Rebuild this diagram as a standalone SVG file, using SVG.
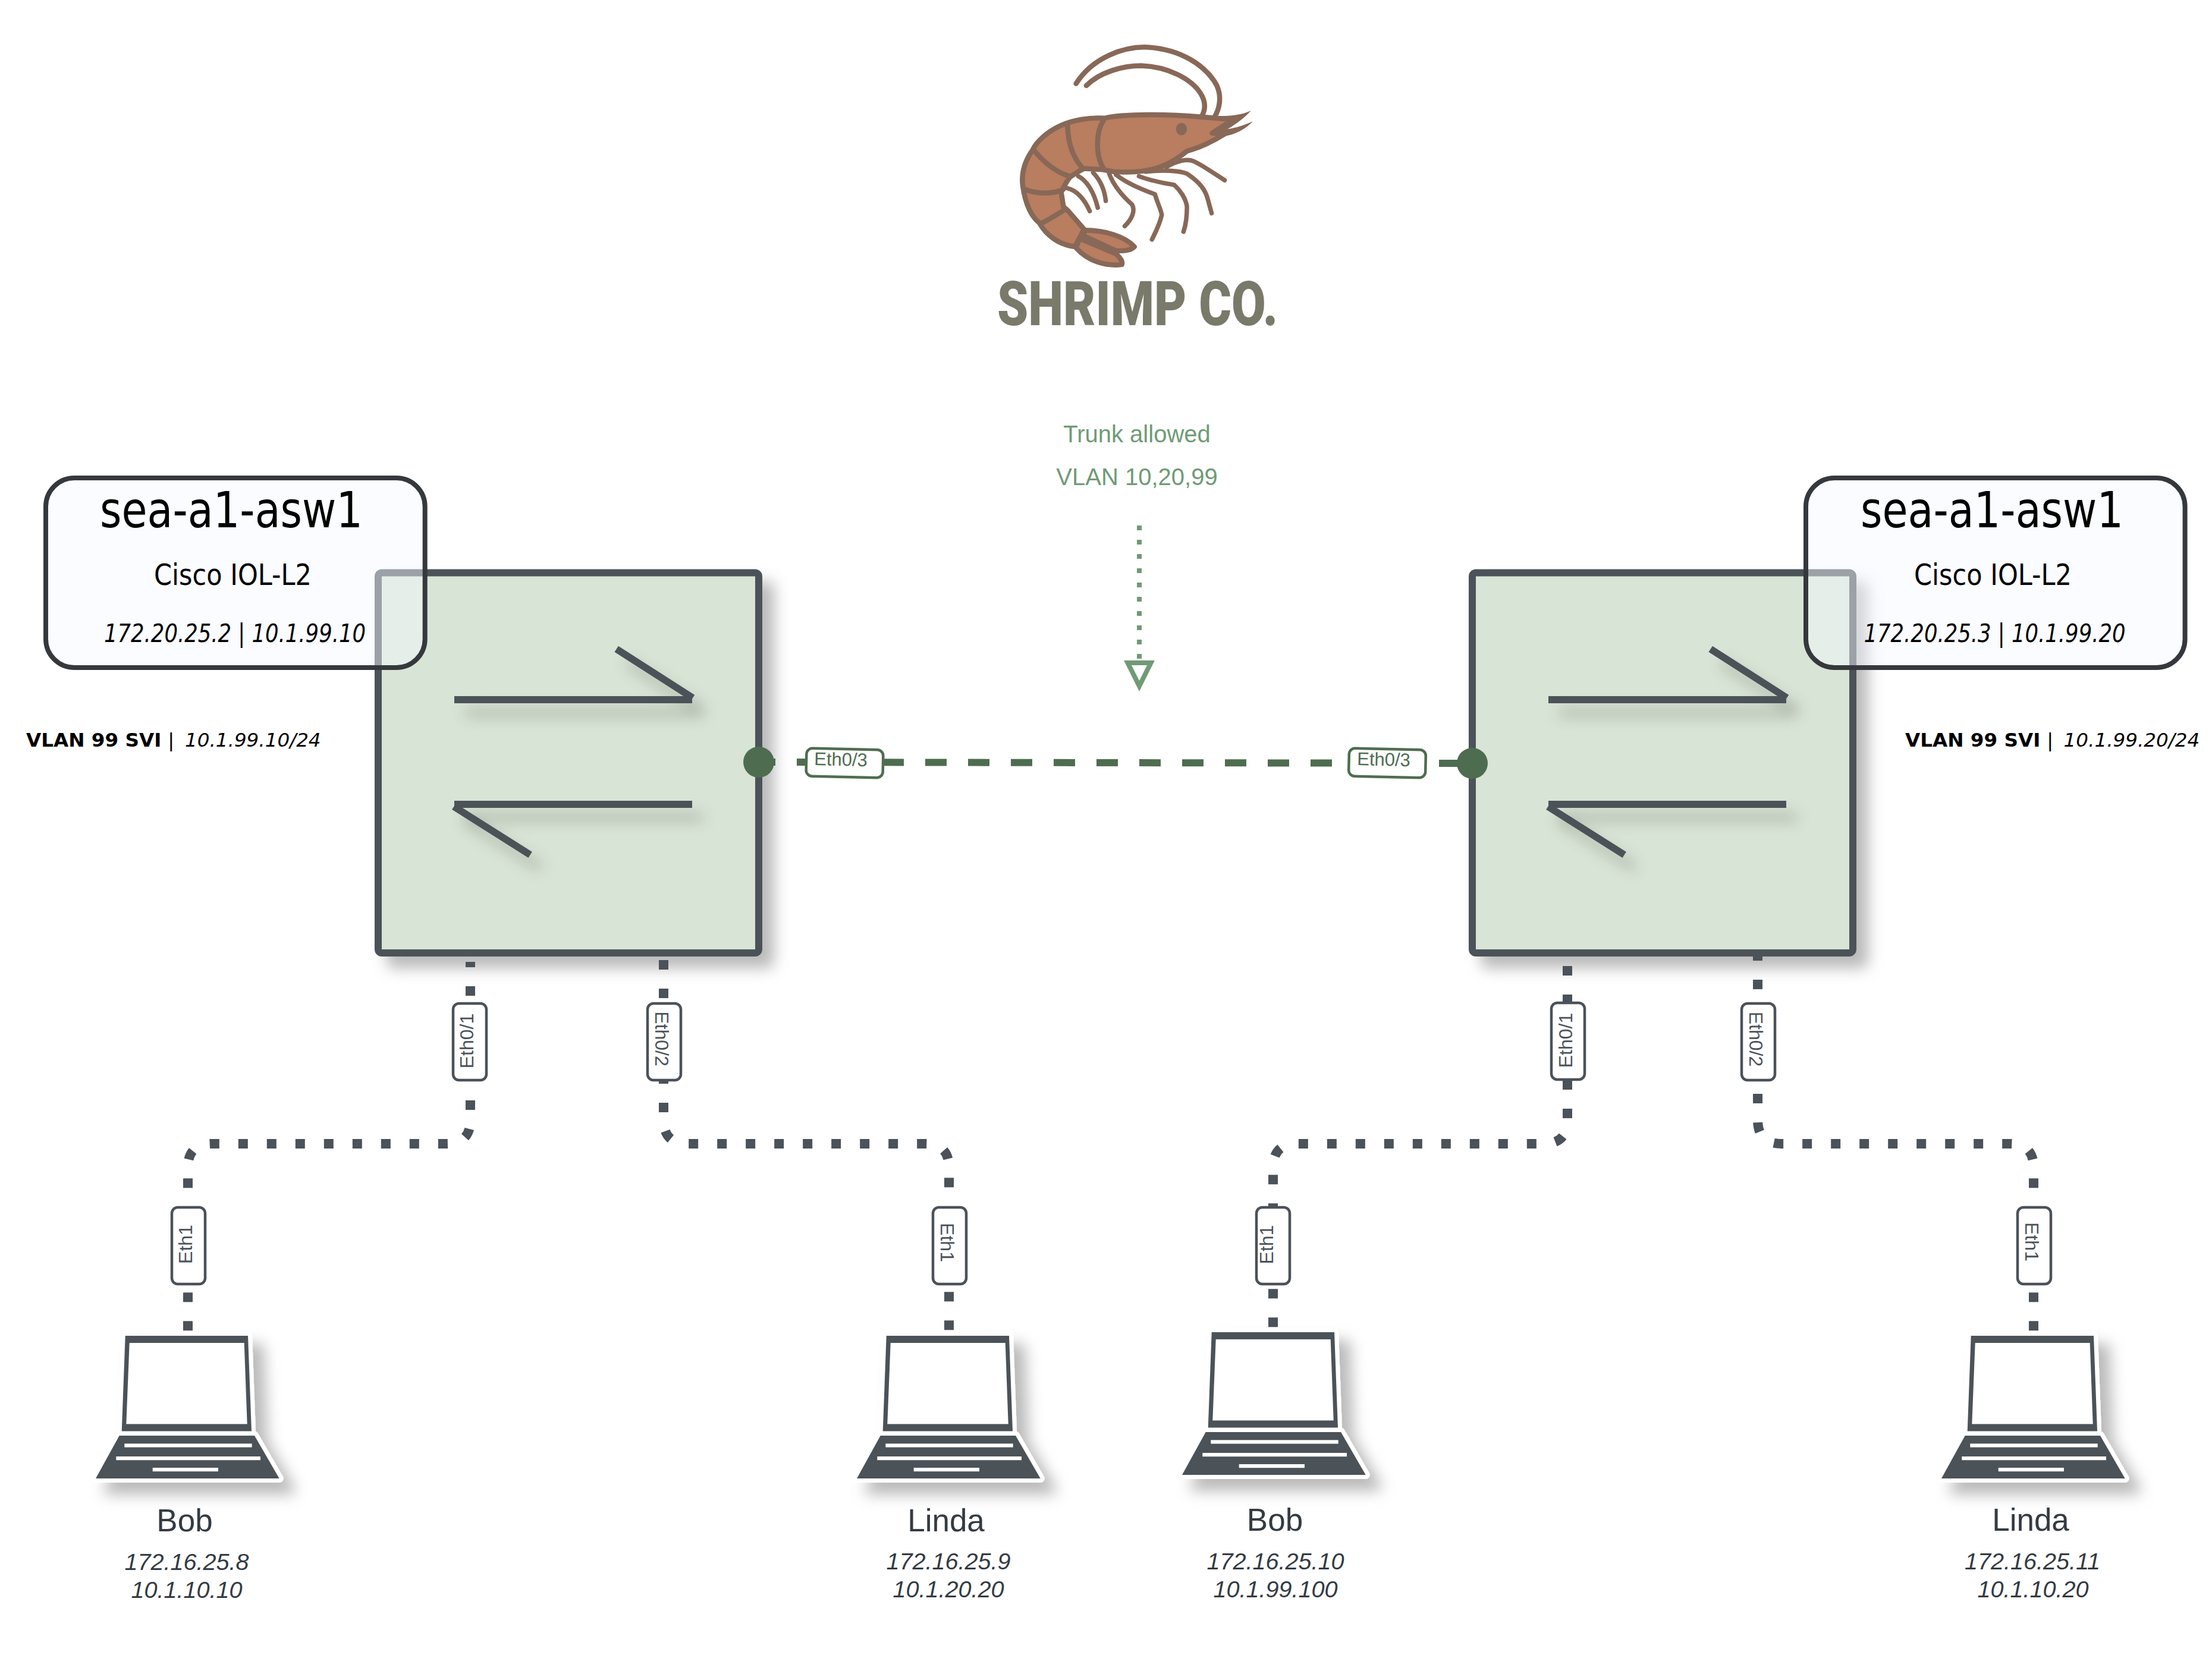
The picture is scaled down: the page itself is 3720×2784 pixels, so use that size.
<svg xmlns="http://www.w3.org/2000/svg" xmlns:xlink="http://www.w3.org/1999/xlink" width="3720" height="2784" viewBox="0 0 3720 2784">
<style>
text{font-family:"Liberation Sans",Arial,sans-serif}
.sw{fill:#d8e4d5;stroke:#4b5259;stroke-width:12;stroke-linejoin:round}
.arrow{fill:none;stroke:#4b5259;stroke-width:12}
.dot{fill:none;stroke:#4b5259;stroke-width:16;stroke-dasharray:16 32}
.dash{fill:none;stroke:#4e6d50;stroke-width:12;stroke-dasharray:36 36}
.port{fill:#fff;stroke:#4b5259;stroke-width:4.5}
.portg{fill:#fff;stroke:#4e6d50;stroke-width:4.5}
.pt{font-size:32px;fill:#4b5259;text-anchor:middle}
.ptg{font-size:31px;fill:#4e6d50}
.name{font-size:53px;fill:#343b43;text-anchor:middle}
.ip{font-size:39.6px;font-style:italic;fill:#343b43;text-anchor:middle}
.card{fill:#f6f8ff;fill-opacity:.47;stroke:#35383c;stroke-width:8}
.dv{font-family:"DejaVu Sans",Verdana,sans-serif;fill:#000}
.t1{font-size:84px}.t2{font-size:49px}.t3{font-size:43px;font-style:italic}
.svi{font-family:"DejaVu Sans",Verdana,sans-serif;font-size:32.6px;fill:#000}
.note{font-size:40px;fill:#6f9b75;text-anchor:middle}
.sh{fill:#b97d60;stroke:#886857;stroke-width:8.5;stroke-linejoin:round;vector-effect:non-scaling-stroke}
.ln{fill:none;stroke:#886857;stroke-width:8.5;stroke-linecap:round;stroke-linejoin:round;vector-effect:non-scaling-stroke}
.ls{fill:none;stroke:#886857;stroke-width:7.5;stroke-linecap:round;stroke-linejoin:round;vector-effect:non-scaling-stroke}
</style>
<defs>
<filter id="shadow" x="-20%" y="-20%" width="150%" height="150%"><feDropShadow dx="20" dy="20" stdDeviation="12" flood-color="#000" flood-opacity=".27"/></filter>
<filter id="lineShadow" filterUnits="userSpaceOnUse" x="600" y="1000" width="2700" height="600"><feDropShadow dx="18" dy="22" stdDeviation="12" flood-color="#000" flood-opacity=".22"/></filter>
<g id="laptop">
<g fill="#fff" stroke="#fff" stroke-width="14" stroke-linejoin="round">
<polygon points="211.7,2247 418,2247 424,2407.6 205.7,2407.6"/>
<polygon points="201.7,2415 429,2415 470.7,2487 162,2487"/>
</g>
<path fill="#4b5259" fill-rule="evenodd" d="M211.7 2247H418L424 2407.6H205.7ZM218.7 2259L213.3 2395.5H416.7L411.7 2259Z"/>
<polygon fill="#4b5259" points="201.7,2415 429,2415 470.7,2487 162,2487"/>
<g fill="#fff"><rect x="210.3" y="2428.4" width="214.4" height="6.2"/><rect x="196.3" y="2450" width="242.7" height="6.2"/><rect x="257.7" y="2469" width="110.3" height="6.2"/></g>
</g>
<g id="swArrows">
<path class="arrow" d="M764 1177H1164M1036.7 1091.7L1165 1174"/>
<path class="arrow" d="M1164 1353H764M763.3 1356.7L891.7 1438"/>
</g>
</defs>
<rect width="3720" height="2784" fill="#fff"/>
<g id="logo">
<g transform="translate(1600 50) scale(.3846 .346)">
<path class="ln" d="M545 262C620 130 760 80 860 85C1000 95 1110 170 1160 270C1185 330 1170 390 1150 425"/>
<path class="ln" d="M590 272C650 205 750 175 830 175C950 180 1050 240 1090 310C1115 355 1110 390 1095 420"/>
<path class="ls" d="M940 668C980 640 1030 625 1060 640C1100 660 1150 700 1195 732"/>
<path class="ls" d="M850 690C920 680 1000 685 1030 700C1090 745 1110 780 1120 820L1138 892"/>
<path class="ls" d="M820 712C870 735 930 745 975 755C1000 780 1025 820 1030 860C1030 910 1025 950 1015 982"/>
<path class="ls" d="M720 705C770 750 840 780 890 800C900 840 915 870 920 900C910 950 890 990 877 1020"/>
<path class="ls" d="M690 700C710 760 750 810 790 850C805 880 790 920 758 955"/>
<path class="ls" d="M620 695C650 730 670 780 675 832"/>
<path class="ls" d="M555 712C600 740 625 800 640 865"/>
<path class="ls" d="M505 770C550 780 585 830 605 882"/>
<path class="sh" d="M585 975C670 975 760 1005 800 1055C785 1075 750 1075 720 1075L575 1000Z"/>
<path class="sh" d="M560 1015L720 1090C740 1110 750 1130 745 1142C680 1150 600 1130 545 1060Z"/>
<path class="sh" d="M670 430C760 408 950 410 1100 425L1160 430L1230 438L1140 503L1195 507C1140 545 1080 575 1030 590C990 625 960 650 900 672C850 690 780 695 710 690L660 680L580 675L555 690L520 715C500 740 490 770 480 790L490 860L510 880L580 970L540 1055C470 1045 415 1000 385 940C340 900 320 820 312 760C305 700 320 640 355 585C370 545 420 495 480 465C530 440 600 425 670 430Z"/>
<path fill="#886857" d="M1150 420C1220 420 1270 415 1310 393C1285 425 1250 455 1208 483C1245 478 1285 462 1318 446C1285 485 1240 510 1195 518L1195 508L1140 503L1230 440L1150 438Z"/>
<path class="ln" d="M665 440C630 500 630 610 665 675M508 470C510 550 530 620 575 675M360 585C400 640 450 690 515 712M320 775C370 800 450 800 490 775M395 940C425 925 460 900 495 875"/>
<ellipse cx="1006" cy="483" rx="24" ry="30" fill="#886857"/>
</g>
<text x="1677" y="546.5" font-size="104" font-weight="900" fill="#7a7a6b" style="font-family:Roboto,'Liberation Sans',sans-serif" textLength="472" lengthAdjust="spacingAndGlyphs">SHRIMP CO.</text>
</g>
<g id="trunk-note">
<text class="note" x="1912" y="743.5">Trunk allowed</text>
<text class="note" x="1912" y="815.7">VLAN 10,20,99</text>
<line x1="1916" y1="884" x2="1916" y2="1108" stroke="#6f9b75" stroke-width="8" stroke-dasharray="8 16"/>
<polygon points="1896.5,1115 1935.5,1115 1916,1154" fill="#fff" stroke="#6f9b75" stroke-width="8" stroke-miterlimit="10"/>
</g>
<g id="switch-a">
<rect class="sw" x="636" y="963.5" width="640" height="639.5" rx="6" filter="url(#shadow)"/>
<use href="#swArrows" filter="url(#lineShadow)"/>
</g>
<g id="switch-b">
<rect class="sw" x="2476" y="963.5" width="640" height="639.5" rx="6" filter="url(#shadow)"/>
<use href="#swArrows" x="1840" filter="url(#lineShadow)"/>
</g>
<g id="connectors">
<line class="dash" x1="1268" y1="1282" x2="2476" y2="1284"/>
<path class="dot" stroke-dashoffset="7" d="M791 1618V1884Q791 1924 751 1924H356Q316 1924 316 1964V2241"/>
<path class="dot" d="M1116 1615V1884Q1116 1924 1156 1924H1556Q1596 1924 1596 1964V2240"/>
<path class="dot" stroke-dashoffset="32" d="M2636 1609V1884Q2636 1924 2596 1924H2181Q2141 1924 2141 1964V2234.5"/>
<path class="dot" stroke-dashoffset="9" d="M2956 1609V1884Q2956 1924 2996 1924H3380Q3420 1924 3420 1964V2240"/>
<circle cx="1276" cy="1282" r="26" fill="#4e6d50"/>
<circle cx="2476" cy="1284" r="26" fill="#4e6d50"/>
<g transform="rotate(1.3 1420.5 1283.5)"><rect class="portg" x="1356" y="1260" width="129" height="47" rx="10"/></g>
<text class="ptg" transform="translate(1369 1287) rotate(1.3)">Eth0/3</text>
<g transform="rotate(1.3 2333 1283.5)"><rect class="portg" x="2268.5" y="1260" width="129" height="47" rx="10"/></g>
<text class="ptg" transform="translate(2282 1287) rotate(1.3)">Eth0/3</text>
<rect class="port" x="762" y="1688" width="56" height="129" rx="10"/>
<text class="pt" transform="translate(796 1751) rotate(-90)">Eth0/1</text>
<rect class="port" x="1089" y="1688" width="56" height="129" rx="10"/>
<text class="pt" transform="translate(1102 1747.5) rotate(90)">Eth0/2</text>
<rect class="port" x="2609" y="1687" width="56" height="129" rx="10"/>
<text class="pt" transform="translate(2644 1750) rotate(-90)">Eth0/1</text>
<rect class="port" x="2929" y="1688" width="56" height="129" rx="10"/>
<text class="pt" transform="translate(2942 1748) rotate(90)">Eth0/2</text>
<rect class="port" x="289" y="2031" width="56" height="129" rx="10"/>
<text class="pt" transform="translate(323 2093) rotate(-90)">Eth1</text>
<rect class="port" x="1569" y="2031" width="56" height="129" rx="10"/>
<text class="pt" transform="translate(1582 2090) rotate(90)">Eth1</text>
<rect class="port" x="2113" y="2031" width="56" height="129" rx="10"/>
<text class="pt" transform="translate(2141 2093.5) rotate(-90)">Eth1</text>
<rect class="port" x="3393" y="2031" width="56" height="129" rx="10"/>
<text class="pt" transform="translate(3406 2089) rotate(90)">Eth1</text>
</g>
<g id="pc-bob-a">
<use href="#laptop" x="-1" filter="url(#shadow)"/>
<text class="name" x="310.5" y="2576">Bob</text>
<text class="ip" x="314" y="2641">172.16.25.8</text>
<text class="ip" x="314" y="2688">10.1.10.10</text>
</g>
<g id="pc-linda-a">
<use href="#laptop" x="1279" filter="url(#shadow)"/>
<text class="name" x="1591" y="2576">Linda</text>
<text class="ip" x="1595" y="2640">172.16.25.9</text>
<text class="ip" x="1595" y="2687">10.1.20.20</text>
</g>
<g id="pc-bob-b">
<use href="#laptop" x="1826" y="-6" filter="url(#shadow)"/>
<text class="name" x="2144" y="2575">Bob</text>
<text class="ip" x="2145" y="2640">172.16.25.10</text>
<text class="ip" x="2145" y="2687">10.1.99.100</text>
</g>
<g id="pc-linda-b">
<use href="#laptop" x="3103" filter="url(#shadow)"/>
<text class="name" x="3415" y="2575">Linda</text>
<text class="ip" x="3418" y="2640">172.16.25.11</text>
<text class="ip" x="3419" y="2687">10.1.10.20</text>
</g>
<g id="card-a">
<rect class="card" x="77" y="804" width="637.7" height="319" rx="48"/>
<text class="dv t1" x="168" y="887" textLength="442" lengthAdjust="spacingAndGlyphs">sea-a1-asw1</text>
<text class="dv t2" x="259" y="983.6" textLength="265" lengthAdjust="spacingAndGlyphs">Cisco IOL-L2</text>
<text class="dv t3" x="175" y="1080" textLength="440" lengthAdjust="spacingAndGlyphs">172.20.25.2 | 10.1.99.10</text>
</g>
<text class="svi" y="1255.7"><tspan x="44" font-weight="700">VLAN 99 SVI</tspan><tspan x="272"> | </tspan><tspan x="311" font-style="italic">10.1.99.10/24</tspan></text>
<g id="card-b">
<rect class="card" x="3037" y="804" width="637.6" height="319" rx="48"/>
<text class="dv t1" x="3129" y="887" textLength="442" lengthAdjust="spacingAndGlyphs">sea-a1-asw1</text>
<text class="dv t2" x="3219" y="983.6" textLength="265" lengthAdjust="spacingAndGlyphs">Cisco IOL-L2</text>
<text class="dv t3" x="3134.5" y="1080" textLength="440" lengthAdjust="spacingAndGlyphs">172.20.25.3 | 10.1.99.20</text>
</g>
<text class="svi" y="1255.7"><tspan x="3204" font-weight="700">VLAN 99 SVI</tspan><tspan x="3432"> | </tspan><tspan x="3470.6" font-style="italic">10.1.99.20/24</tspan></text>
</svg>
